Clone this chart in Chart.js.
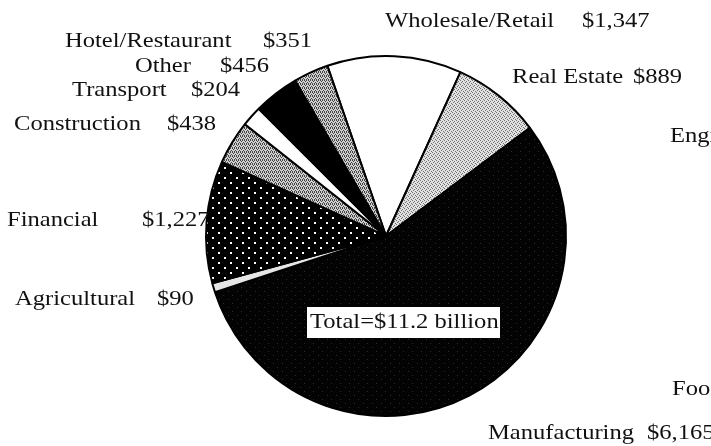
<!DOCTYPE html>
<html>
<head>
<meta charset="utf-8">
<title>Output by sector</title>
<script src="https://cdn.jsdelivr.net/npm/chart.js@4.4.0/dist/chart.umd.min.js"></script>
<style>
html, body { margin: 0; padding: 0; background: #fff; }
canvas { display: block; }
</style>
</head>
<body>
<canvas id="chartjs-0" width="711" height="446"></canvas>
<script>
// slices, clockwise from the top
var sectors = ["Wholesale/Retail", "Real Estate", "Manufacturing", "Agricultural", "Financial",
               "Construction", "Transport", "Other", "Hotel/Restaurant"];
var amounts = [1347, 889, 6165, 90, 1227, 438, 204, 456, 351];
var amountText = ["$1,347", "$889", "$6,165", "$90", "$1,227", "$438", "$204", "$456", "$351"];
var totalText = "Total=$11.2 billion";
// manufacturing breakdown labels, cut off by the right edge of the page
var cutNames = ["Engineering", "Food"];

// where each sector label sits: [name x, amount x, baseline]
var labelSpots = [[385, 582, 27], [512, 633, 83], [488, 647, 439], [15, 157, 305], [7, 142, 226],
                  [14, 167, 130], [72, 191, 96], [135, 220, 72], [65, 263, 47]];
var cutSpots = [[670, 142], [672, 395]];

var FONT = "21px 'Liberation Serif', serif";
var STRETCH = 1.17;

function tile(w, h, bg, fg, pts, size) {
    var c = document.createElement("canvas");
    c.width = w; c.height = h;
    var g = c.getContext("2d");
    g.fillStyle = bg;
    g.fillRect(0, 0, w, h);
    g.fillStyle = fg;
    for (var i = 0; i < pts.length; i++) {
        g.fillRect(pts[i][0], pts[i][1], size || 1, size || 1);
    }
    return document.getElementById("chartjs-0").getContext("2d").createPattern(c, "repeat");
}

var lightDots = tile(4, 4, "#e2e2e2", "#707070", [[0, 0], [2, 1], [1, 2], [3, 3]]);
var midDots = tile(4, 4, "#cfcfcf", "#444444", [[0, 0], [2, 0], [1, 1], [3, 2], [0, 3], [2, 3]]);
var darkGrain = tile(9, 8, "#030303", "#2a2a2a", [[3, 3], [7, 7]]);
var whiteDots = tile(12, 10, "#000000", "#ffffff", [[2, 2], [8, 7]], 2);

var fills = ["#ffffff", lightDots, darkGrain, "#e6e6e6", whiteDots, midDots, "#ffffff", "#000000", midDots];

function putText(ctx, txt, x, y) {
    ctx.save();
    ctx.translate(x, y);
    ctx.scale(STRETCH, 1);
    ctx.fillText(txt, 0, 0);
    ctx.restore();
}

var labelPlugin = {
    id: "sectorLabels",
    afterDraw: function (chart) {
        var ctx = chart.ctx;
        ctx.save();
        ctx.font = FONT;
        ctx.fillStyle = "#111";
        ctx.textBaseline = "alphabetic";
        ctx.textAlign = "left";
        for (var i = 0; i < sectors.length; i++) {
            putText(ctx, sectors[i], labelSpots[i][0], labelSpots[i][2]);
            putText(ctx, amountText[i], labelSpots[i][1], labelSpots[i][2]);
        }
        for (var j = 0; j < cutNames.length; j++) {
            putText(ctx, cutNames[j], cutSpots[j][0], cutSpots[j][1]);
        }
        // total in a white box over the pie
        ctx.fillStyle = "#fff";
        ctx.fillRect(307, 307, 193, 31);
        ctx.fillStyle = "#111";
        putText(ctx, totalText, 310, 328);
        ctx.restore();
    }
};

var ctx0 = document.getElementById("chartjs-0");
var myChart = new Chart(ctx0, {
    type: "pie",
    data: {
        labels: sectors,
        datasets: [{
            data: amounts,
            backgroundColor: fills,
            borderColor: "#000",
            borderWidth: 2
        }]
    },
    options: {
        responsive: false,
        devicePixelRatio: 1,
        animation: false,
        rotation: -19,
        layout: { padding: { left: 205, right: 144, top: 55, bottom: 29 } },
        plugins: {
            legend: { display: false },
            tooltip: { enabled: false }
        }
    },
    plugins: [labelPlugin]
});
</script>
</body>
</html>
